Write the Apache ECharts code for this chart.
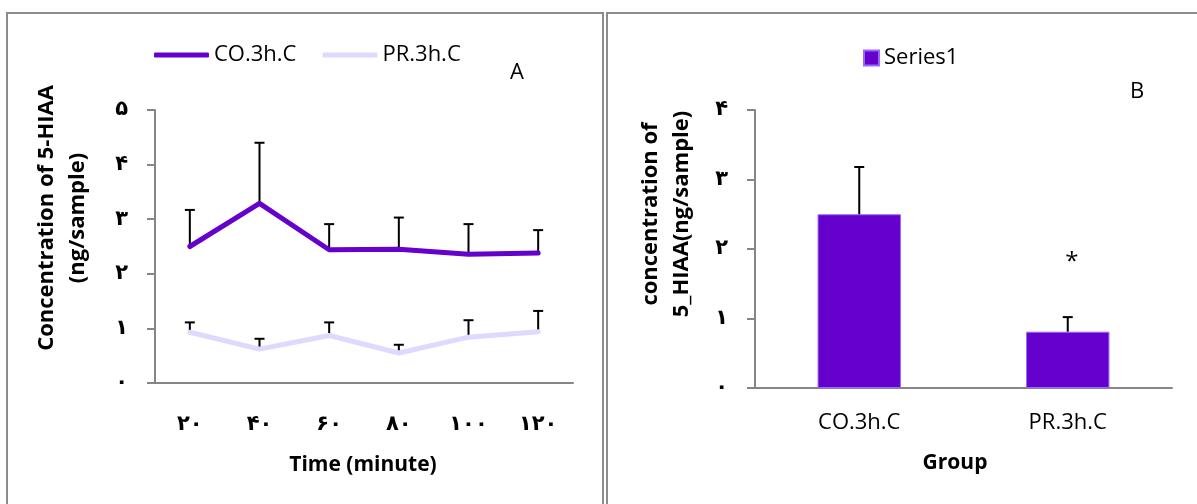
<!DOCTYPE html>
<html>
<head>
<meta charset="utf-8">
<script src="https://cdn.jsdelivr.net/npm/echarts@6/dist/echarts.min.js"></script>
<style>
  html, body { margin: 0; padding: 0; background: #fff; }
  #chart { width: 1197px; height: 504px; }
</style>
</head>
<body>
<div id="chart"></div>
<script>
// panel A - time course
const timeLabels = ['۲۰', '۴۰', '۶۰', '۸۰', '۱۰۰', '۱۲۰']
const yTicksA = ['۰', '۱', '۲', '۳', '۴', '۵']
const coMean = [2.50, 3.29, 2.44, 2.45, 2.36, 2.38]
const coErr = [0.67, 1.11, 0.47, 0.58, 0.55, 0.42]
const prMean = [0.93, 0.62, 0.87, 0.55, 0.84, 0.94]
const prErr = [0.18, 0.19, 0.24, 0.15, 0.31, 0.38]

// panel B - group means
const groups = ['CO.3h.C', 'PR.3h.C']
const yTicksB = ['۰', '۱', '۲', '۳', '۴']
const groupMean = [2.50, 0.81]
const groupErr = [0.68, 0.21]
const sigMark = ['', '*']

const axisGray = '#868686'
const purple = '#6600cc'
const lavender = '#e0d8ff'
const sans = '"Open Sans", sans-serif'
const digitFont = '"DejaVu Sans", sans-serif'

// upper error bar with a small cap
function errBar(params, api) {
  const base = api.coord([api.value(0), api.value(1)])
  const top = api.coord([api.value(0), api.value(2)])
  const cap = 5
  return {
    type: 'group',
    children: [
      { type: 'line', shape: { x1: base[0], y1: base[1], x2: top[0], y2: top[1] }, style: { stroke: '#000', lineWidth: 2 } },
      { type: 'line', shape: { x1: top[0] - cap, y1: top[1], x2: top[0] + cap, y2: top[1] }, style: { stroke: '#000', lineWidth: 2 } },
    ],
  }
}
const errData = (m, e) => m.map((v, i) => [i, v, +(v + e[i]).toFixed(2)])

function valueAxis(gridIndex, max, ticks) {
  return {
    type: 'value',
    gridIndex: gridIndex,
    min: 0,
    max: max,
    interval: 1,
    axisLine: { show: true, lineStyle: { color: axisGray, width: 2 } },
    axisTick: { show: true, length: 8, lineStyle: { color: axisGray, width: 2 } },
    splitLine: { show: false },
    axisLabel: {
      margin: 27,
      fontFamily: digitFont,
      fontSize: 21,
      fontWeight: 'bold',
      color: '#000',
      formatter: (v) => ticks[v],
    },
  }
}

let option = {
  animation: false,
  grid: [
    { left: 155, top: 110, width: 418, height: 273 },
    { left: 755, top: 110, width: 417, height: 278 },
  ],
  legend: [
    {
      left: 149,
      top: 39,
      itemWidth: 55,
      itemHeight: 5,
      itemGap: 26,
      icon: 'roundRect',
      textStyle: { fontFamily: sans, fontSize: 22, color: '#000' },
      data: ['CO.3h.C', 'PR.3h.C'],
    },
    {
      left: 858,
      top: 42,
      itemWidth: 15,
      itemHeight: 15,
      icon: 'rect',
      textStyle: { fontFamily: sans, fontSize: 22, color: '#000' },
      data: ['Series1'],
    },
  ],
  xAxis: [
    {
      type: 'category',
      gridIndex: 0,
      data: timeLabels,
      axisLine: { lineStyle: { color: axisGray, width: 2 } },
      axisTick: { length: 8, lineStyle: { color: axisGray, width: 2 } },
      axisLabel: { margin: 31, fontFamily: digitFont, fontSize: 21, fontWeight: 'bold', color: '#000' },
    },
    {
      type: 'category',
      gridIndex: 1,
      data: groups,
      axisLine: { lineStyle: { color: axisGray, width: 2 } },
      axisTick: { length: 8, lineStyle: { color: axisGray, width: 2 } },
      axisLabel: { margin: 24, fontFamily: sans, fontSize: 22, color: '#000' },
    },
  ],
  yAxis: [valueAxis(0, 5, yTicksA), valueAxis(1, 4, yTicksB)],
  series: [
    {
      type: 'custom',
      xAxisIndex: 0,
      yAxisIndex: 0,
      renderItem: errBar,
      data: errData(coMean, coErr),
      z: 1,
    },
    {
      type: 'custom',
      xAxisIndex: 0,
      yAxisIndex: 0,
      renderItem: errBar,
      data: errData(prMean, prErr),
      z: 1,
    },
    {
      name: 'CO.3h.C',
      type: 'line',
      xAxisIndex: 0,
      yAxisIndex: 0,
      data: coMean,
      showSymbol: false,
      color: purple,
      lineStyle: { width: 5, cap: 'round' },
      z: 3,
    },
    {
      name: 'PR.3h.C',
      type: 'line',
      xAxisIndex: 0,
      yAxisIndex: 0,
      data: prMean,
      showSymbol: false,
      color: lavender,
      lineStyle: { width: 5, cap: 'round' },
      z: 2,
    },
    {
      name: 'Series1',
      type: 'bar',
      xAxisIndex: 1,
      yAxisIndex: 1,
      data: groupMean,
      barWidth: '40%',
      color: purple,
      itemStyle: { borderColor: '#9966ff', borderWidth: 1 },
    },
    {
      type: 'custom',
      xAxisIndex: 1,
      yAxisIndex: 1,
      renderItem: function (params, api) {
        const g = errBar(params, api)
        const top = api.coord([api.value(0), api.value(2)])
        const mark = sigMark[params.dataIndex]
        if (mark) {
          g.children.push({
            type: 'text',
            x: top[0] + 4,
            y: top[1] - 55,
            style: { text: mark, fontFamily: sans, fontSize: 24, fill: '#000', align: 'center', verticalAlign: 'middle' },
          })
        }
        return g
      },
      data: errData(groupMean, groupErr),
      z: 3,
    },
  ],
  graphic: [
    // panel frames
    { type: 'rect', shape: { x: 7, y: 13, width: 596, height: 500 }, style: { fill: 'none', stroke: '#8c8c8c', lineWidth: 2 } },
    { type: 'rect', shape: { x: 607, y: 13, width: 600, height: 500 }, style: { fill: 'none', stroke: '#8c8c8c', lineWidth: 2 } },
    // axis titles
    {
      type: 'text', x: 62, y: 218, rotation: Math.PI / 2,
      style: { text: 'Concentration of 5-HIAA\n(ng/sample)', fontFamily: sans, fontWeight: 'bold', fontSize: 22, lineHeight: 31, fill: '#000', align: 'center', verticalAlign: 'middle' },
    },
    {
      type: 'text', x: 363, y: 465,
      style: { text: 'Time (minute)', fontFamily: sans, fontWeight: 'bold', fontSize: 21, fill: '#000', align: 'center', verticalAlign: 'middle' },
    },
    {
      type: 'text', x: 666, y: 214, rotation: Math.PI / 2,
      style: { text: 'concentration of\n5_HIAA(ng/sample)', fontFamily: sans, fontWeight: 'bold', fontSize: 22, lineHeight: 31, fill: '#000', align: 'center', verticalAlign: 'middle' },
    },
    {
      type: 'text', x: 955, y: 463,
      style: { text: 'Group', fontFamily: sans, fontWeight: 'bold', fontSize: 21, fill: '#000', align: 'center', verticalAlign: 'middle' },
    },
    // panel letters
    { type: 'text', x: 517, y: 73, style: { text: 'A', fontFamily: sans, fontSize: 22, fill: '#000', align: 'center', verticalAlign: 'middle' } },
    { type: 'text', x: 1137, y: 92, style: { text: 'B', fontFamily: sans, fontSize: 22, fill: '#000', align: 'center', verticalAlign: 'middle' } },
  ],
}

let myChart = echarts.init(document.getElementById('chart'))
myChart.setOption(option)
</script>
</body>
</html>
